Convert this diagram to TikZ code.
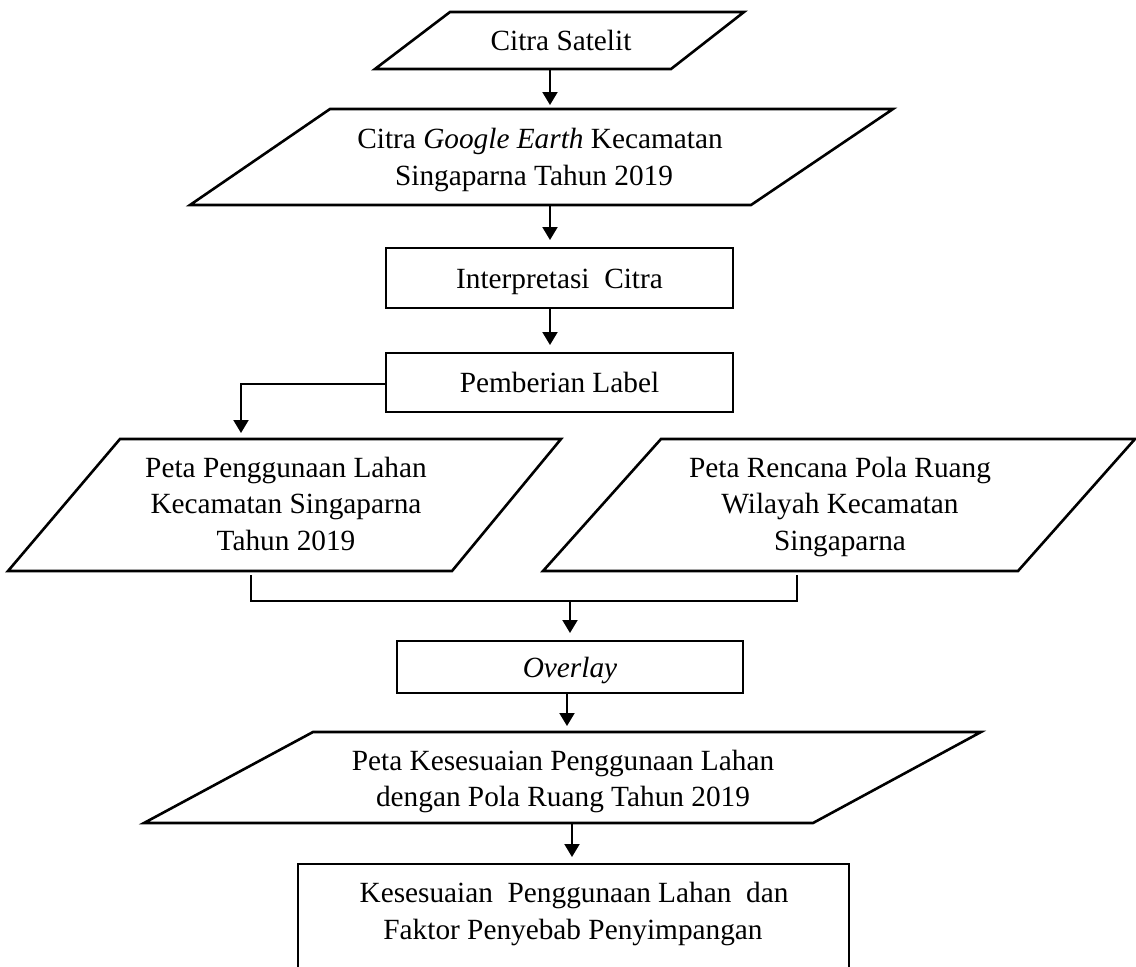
\documentclass[tikz,border=0pt]{standalone}
\usepackage{fontspec}
\setmainfont{Liberation Serif}
\usetikzlibrary{arrows.meta}
\begin{document}
\begin{tikzpicture}[x=1pt,y=-1pt,
  shp/.style={line width=2.6pt, line join=miter},
  rbox/.style={draw, line width=2.6pt, inner sep=0pt, text height=20pt, text depth=0pt,
    font=\fontsize{29.3}{35}\selectfont},
  arr/.style={line width=2pt, -{Triangle[length=13pt,width=15pt]}, shorten >=6pt},
  lbl/.style={anchor=base, inner sep=0pt, font=\fontsize{29.3}{35}\selectfont},
  conn/.style={line width=2pt}]
\useasboundingbox (0,0) rectangle (1136,967);
\clip (0,0) rectangle (1136,967);

% Citra Satelit
\draw[shp] (450,12) -- (744,12) -- (671,69) -- (375,69) -- cycle;
\node[lbl] (cs) at (561,50) {Citra Satelit};
\coordinate (cs-s) at (550,69);

% Citra Google Earth
\draw[shp] (330,109) -- (893,109) -- (751,205) -- (190,205) -- cycle;
\node[lbl] (ge) at (540,148.5) {Citra \textit{Google Earth} Kecamatan};
\node[lbl] (ge2) at (534,185) {Singaparna Tahun 2019};
\coordinate (ge-n) at (550,109);
\coordinate (ge-s) at (550,205);

% Interpretasi Citra
\node[rbox, minimum width=347pt, minimum height=60pt] (interp) at (559.5,278) {Interpretasi\ \ Citra};
\coordinate (in-n) at (550,248);
\coordinate (in-s) at (550,308);

% Pemberian Label
\node[rbox, minimum width=347pt, minimum height=59pt] (pemb) at (559.5,382.5) {Pemberian Label};
\coordinate (pb-n) at (550,353);
\coordinate (pb-w) at (386,384);

% Peta Penggunaan Lahan
\draw[shp] (120,439) -- (561,439) -- (452,571) -- (8,571) -- cycle;
\node[lbl] (ppl) at (286,477) {Peta Penggunaan Lahan};
\node[lbl] (ppl2) at (286,513.5) {Kecamatan Singaparna};
\node[lbl] (ppl3) at (286,550) {Tahun 2019};
\coordinate (ppl-n) at (241,439);
\coordinate (ppl-s) at (251,575);

% Peta Rencana Pola Ruang
\draw[shp] (661,439) -- (1135,439) -- (1018,571) -- (543,571) -- cycle;
\node[lbl] (prp) at (840,477) {Peta Rencana Pola Ruang};
\node[lbl] (prp2) at (840,513.5) {Wilayah Kecamatan};
\node[lbl] (prp3) at (840,550) {Singaparna};
\coordinate (prp-s) at (797,575);

% bracket
\coordinate (jl) at (251,601);
\coordinate (jr) at (797,601);
\coordinate (jm) at (570,601);

% Overlay
\node[rbox, minimum width=346pt, minimum height=52pt] (ov) at (570,667) {\textit{Overlay}};
\coordinate (ov-n) at (570,641);
\coordinate (ov-s) at (567,693);

% Peta Kesesuaian
\draw[shp] (313,732) -- (981,732) -- (813,823) -- (144,823) -- cycle;
\node[lbl] (pk) at (563,770) {Peta Kesesuaian Penggunaan Lahan};
\node[lbl] (pk2) at (563,806) {dengan Pola Ruang Tahun 2019};
\coordinate (pk-n) at (567,732);
\coordinate (pk-s) at (572,823);

% Final box
\node[draw, line width=2.6pt, inner sep=0pt, minimum width=551pt, minimum height=140pt] (fin) at (573.5,934) {};
\node[lbl] (fk) at (574,902) {Kesesuaian\ \ Penggunaan Lahan\ \ dan};
\node[lbl] (fk2) at (573,939) {Faktor Penyebab Penyimpangan};
\coordinate (fin-n) at (572,864);

% connectors
\draw[arr, shorten >=4pt] (cs-s) -- (ge-n);
\draw[arr, shorten >=8pt] (ge-s) -- (in-n);
\draw[arr, shorten >=8pt] (in-s) -- (pb-n);
\draw[arr] (pb-w) -| (ppl-n);
\draw[conn] (ppl-s) -- (jl) -- (jr) -- (prp-s);
\draw[arr, shorten >=8pt] (jm) -- (ov-n);
\draw[arr] (ov-s) -- (pk-n);
\draw[arr, shorten >=7pt] (pk-s) -- (fin-n);
\end{tikzpicture}
\end{document}
